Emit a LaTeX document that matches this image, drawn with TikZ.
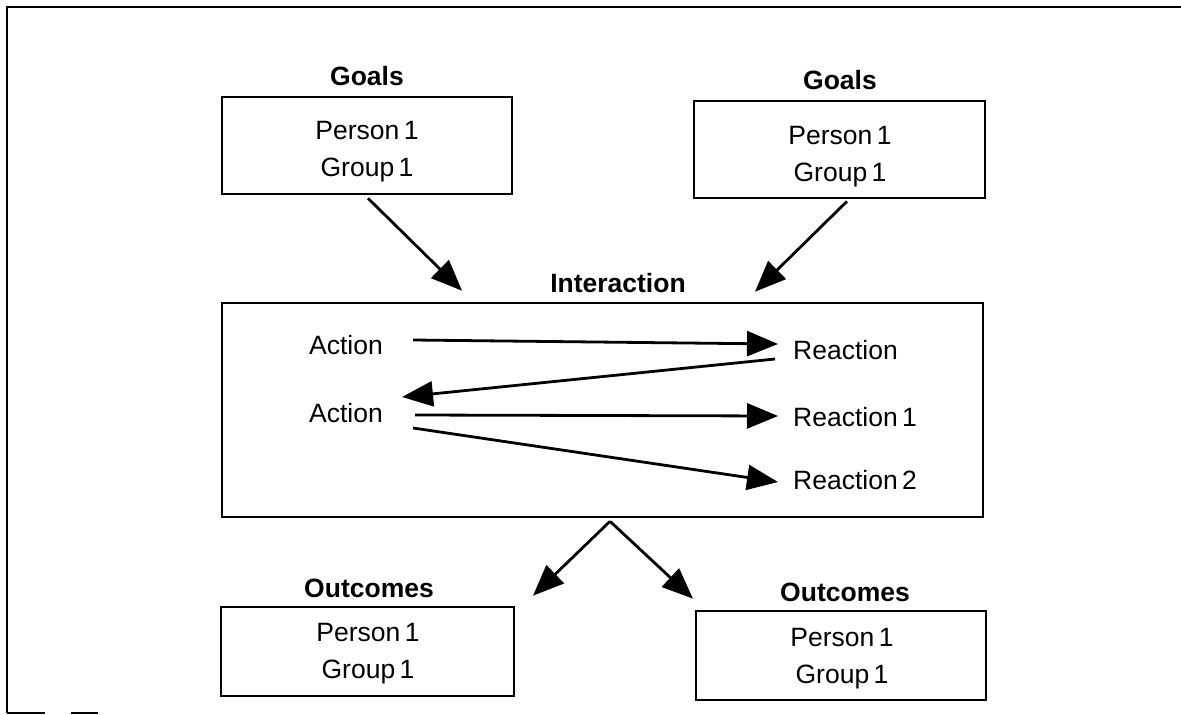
\documentclass[tikz,border=0pt]{standalone}
\usepackage{fontspec}
\setmainfont{Liberation Sans}
\usetikzlibrary{arrows.meta,calc}
\begin{document}
\begin{tikzpicture}[x=1pt,y=-1pt,
  box/.style={draw,line width=2.6pt,inner sep=0pt},
  txt/.style={inner sep=0pt,font=\fontsize{26.5}{37}\selectfont,align=center},
  ttl/.style={inner sep=0pt,font=\fontsize{26.5}{37}\selectfont\bfseries},
  arr/.style={line width=2.8pt,-{Triangle[length=31pt,width=25pt]}},
  frameline/.style={line width=1.6pt}]
\useasboundingbox (0,0) rectangle (1181,715);
% frame
\draw[frameline] (7,713) -- (7,7) -- (1181,7);
\draw[frameline] (7,713) -- (45,713);
\draw[frameline] (71,713) -- (98,713);
% boxes
\node[box,minimum width=290pt,minimum height=97pt] (g1) at (367,145.5) {};
\node[box,minimum width=291pt,minimum height=97pt] (g2) at (839.5,149.5) {};
\node[box,minimum width=761pt,minimum height=214pt] (inter) at (602.5,410) {};
\node[box,minimum width=293pt,minimum height=89pt] (o1) at (367.5,651.5) {};
\node[box,minimum width=290pt,minimum height=89pt] (o2) at (841,655.5) {};
% titles
\node[ttl] (g1l) at (367,76) {Goals};
\node[ttl] (g2l) at (840,80) {Goals};
\node[ttl] (il) at (618,283) {Interaction};
\node[ttl] (o1l) at (369,588) {Outcomes};
\node[ttl] (o2l) at (845,592) {Outcomes};
% box texts
\node[txt] (g1t) at (367,152) {Person\,1\\Group\,1};
\node[txt] (g2t) at (840,157) {Person\,1\\Group\,1};
\node[txt] (o1t) at (368,654) {Person\,1\\Group\,1};
\node[txt] (o2t) at (842,659) {Person\,1\\Group\,1};
% interaction content
\node[txt] (a1) at (346,345) {Action};
\node[txt] (a2) at (346,413) {Action};
\node[txt,anchor=west] (r0) at (793,350) {Reaction};
\node[txt,anchor=west] (r1) at (793,417) {Reaction\,1};
\node[txt,anchor=west] (r2) at (793,480) {Reaction\,2};
% arrows
\draw[arr] ($(g1.south)+(1,3)$) -- ($(inter.north)+(-140.5,-11)$);
\draw[arr] ($(g2.south)+(7.5,2)$) -- ($(inter.north)+(152.5,-10)$);
\draw[arr] ($(inter.south)+(7.5,3)$) -- ($(o1.north)+(165.5,-10)$);
\draw[arr] ($(inter.south)+(7.5,3)$) -- ($(o2.north)+(-148,-11)$);
\draw[arr] ($(a1.east)+(30,-5)$) -- ($(r0.west)+(-15,-6)$);
\draw[arr] ($(r0.west)+(-18,9)$) -- ($(a2.east)+(19,-16)$);
\draw[arr] ($(a2.east)+(32,2)$) -- ($(r1.west)+(-15,-1)$);
\draw[arr] ($(a2.east)+(30,15)$) -- ($(r2.west)+(-15,2)$);
\end{tikzpicture}
\end{document}
